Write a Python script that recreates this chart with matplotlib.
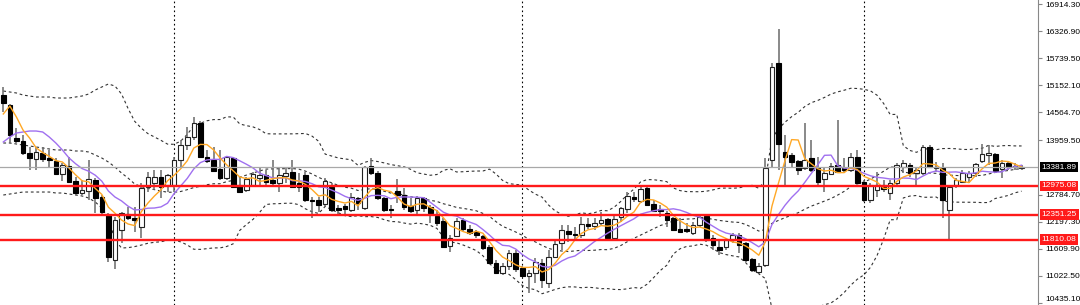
import numpy as np
import pandas as pd
import matplotlib
matplotlib.use('Agg')
import matplotlib.pyplot as plt

# weekly OHLC
opens = [14942, 14726, 14010, 13946, 13686, 13556, 13686, 13577, 13512, 13230,
         13404, 13079, 12819, 12862, 13100, 12732, 12342, 11367, 12017, 12364,
         12277, 12082, 12949, 13035, 13165, 12992, 12992, 13534, 13859, 14032,
         14336, 13599, 13534, 13339, 13144, 13577, 12992, 12884, 12992, 13144,
         13209, 13100, 13035, 13187, 13274, 13035, 13209, 12667, 12667, 12580,
         12949, 12494, 12537, 12450, 12710, 12494, 13404, 13252, 12710, 12472,
         12862, 12775, 12537, 12450, 12710, 12515, 12320, 12212, 11670, 11887,
         12234, 12039, 11974, 11887, 11649, 11302, 11085, 11237, 11519, 11194,
         11020, 11085, 11302, 10868, 11432, 11735, 11995, 11930, 11909, 12147,
         12104, 12169, 12255, 11844, 12299, 12472, 12732, 12645, 12927, 12580,
         12472, 12385, 12277, 12039, 12039, 11952, 12125, 12320, 11844, 11649,
         11649, 11800, 11909, 11735, 11389, 11107, 11258, 13534, 15636, 13707,
         13642, 13512, 13360, 13577, 13360, 13122, 13230, 13425, 13360, 13317,
         13599, 13057, 12667, 12884, 12992, 12819, 13035, 13382, 13425, 13252,
         13252, 13816, 13360, 13360, 12450, 12992, 13057, 13165, 13252, 13512,
         13642, 13664, 13339, 13469, 13404, 13360]
closes = [14769, 14075, 13946, 13686, 13577, 13707, 13556, 13534, 13230, 13425,
          13057, 12819, 12884, 13122, 12710, 12407, 11432, 12234, 12385, 12277,
          12234, 12927, 13165, 13165, 12949, 13209, 13534, 13859, 14032, 14336,
          13599, 13512, 13295, 13144, 13599, 12949, 12840, 13122, 13230, 13209,
          13057, 13035, 13209, 13252, 12949, 12949, 12667, 12645, 12559, 13079,
          12450, 12450, 12472, 12732, 12602, 13382, 13252, 12710, 12450, 12450,
          12775, 12515, 12429, 12710, 12494, 12385, 12169, 11649, 11844, 12212,
          12039, 11952, 11909, 11627, 11302, 11085, 11237, 11519, 11172, 11020,
          11085, 11323, 10933, 11432, 11714, 12017, 11930, 11909, 12147, 12104,
          12169, 12234, 11844, 12255, 12494, 12754, 12689, 12906, 12559, 12429,
          12429, 12234, 12017, 11974, 11995, 12125, 12299, 11800, 11692, 11584,
          11800, 11909, 11692, 11367, 11150, 11237, 13360, 15549, 13881, 13599,
          13490, 13317, 13534, 13317, 13057, 13252, 13404, 13274, 13317, 13599,
          13035, 12667, 12992, 12992, 12906, 13035, 13425, 13469, 13252, 13317,
          13816, 13382, 13382, 12667, 12949, 13100, 13252, 13252, 13447, 13664,
          13686, 13295, 13469, 13382, 13382, 13381.89]
highs = [15116, 14747, 14227, 14075, 13816, 13816, 13816, 13751, 13577, 13469,
         13599, 13165, 13100, 13534, 13144, 12775, 12385, 12299, 12407, 12515,
         12515, 13035, 13274, 13317, 13317, 13230, 13599, 13967, 14249, 14466,
         14379, 13751, 13816, 13751, 13621, 13599, 13165, 13165, 13274, 13382,
         13317, 13534, 13382, 13382, 13534, 13252, 13274, 12732, 12732, 13144,
         13035, 12559, 12580, 12819, 12732, 13404, 13577, 13295, 12732, 12559,
         13122, 12927, 12710, 12754, 12732, 12559, 12450, 12277, 11909, 12277,
         12277, 12125, 12017, 11909, 11692, 11367, 11302, 11584, 11584, 11237,
         11150, 11410, 11389, 11584, 11800, 12125, 12125, 12082, 12299, 12277,
         12277, 12407, 12277, 12342, 12515, 12840, 12840, 12970, 12949, 12667,
         12559, 12429, 12299, 12277, 12169, 12190, 12342, 12342, 11909, 11800,
         11844, 11952, 11952, 11757, 11410, 11302, 13577, 15636, 16373, 14075,
         13686, 13534, 14336, 13967, 13599, 13360, 13469, 14401, 13577, 13686,
         13751, 13100, 13035, 13274, 13100, 13100, 13469, 13534, 13469, 13382,
         13859, 13859, 13490, 13469, 12992, 13144, 13317, 13295, 13469, 13881,
         13859, 13686, 13534, 13490, 13469, 13425]
lows = [14574, 13902, 13902, 13642, 13317, 13317, 13490, 13382, 13209, 13079,
        13035, 12775, 12775, 12667, 12385, 12364, 11323, 11172, 11735, 12234,
        11974, 11844, 12840, 12884, 12710, 12840, 12840, 13382, 13751, 13967,
        13577, 13469, 13274, 13100, 13100, 12927, 12819, 12840, 12970, 12992,
        12992, 12970, 12840, 13035, 12927, 12840, 12624, 12277, 12407, 12515,
        12407, 12364, 12320, 12407, 12450, 12450, 13209, 12667, 12407, 12277,
        12602, 12450, 12385, 12342, 12407, 12169, 12104, 11627, 11540, 11865,
        11995, 11909, 11844, 11584, 11280, 11063, 11042, 11150, 11107, 10998,
        10652, 10868, 10760, 10760, 11410, 11584, 11757, 11800, 11844, 12039,
        12017, 12125, 11822, 11822, 12190, 12385, 12624, 12602, 12537, 12407,
        12299, 12082, 11995, 11952, 11952, 11909, 12082, 11757, 11584, 11475,
        11584, 11735, 11519, 11323, 11107, 11063, 11215, 13360, 13317, 12949,
        13382, 13209, 13317, 13274, 12992, 12840, 13209, 13252, 13252, 13274,
        13014, 12624, 12602, 12732, 12840, 12667, 12992, 13252, 13165, 12949,
        13209, 13360, 13274, 12277, 11800, 12927, 13035, 13035, 13165, 13469,
        13425, 13274, 13144, 13317, 13317, 13317]

# indicator values at the left edge (history before the first bar is off-screen)
fast_head = [14531, 14704, 14466, 14184]
slow_head = [13924, 14032, 14119, 14141, 14162, 14162, 14141, 14032, 13902]
bb_upper_head = [15029, 15007, 14986, 14942, 14921, 14899, 14899, 14899, 14877, 14877,
                 14877, 14899, 14921, 14964, 15051, 15116, 15181, 15137, 14964]
bb_mid_head = [13902, 13902, 13881, 13859, 13837, 13816, 13794, 13772, 13751, 13751,
               13751, 13729, 13729, 13707, 13642, 13577, 13490, 13382, 13252]
bb_lower_head = [12775, 12797, 12819, 12840, 12840, 12840, 12840, 12840, 12819, 12819,
                 12797, 12775, 12754, 12710, 12624, 12494, 12277, 11800, 11627]

separators = [26, 79, 131]
current_price = 13381.89
levels = [12975.08, 12351.25, 11810.08]
tick_values = [16914.30, 16326.90, 15739.50, 15152.10, 14564.70, 13959.50,
               12784.70, 12197.30, 11609.90, 11022.50, 10435.10]

df = pd.DataFrame({'open': opens, 'high': highs, 'low': lows, 'close': closes})
n = len(df)
x = np.arange(n)

ma_fast = df['close'].rolling(5).mean()
ma_fast.iloc[:4] = fast_head
ma_slow = df['close'].rolling(10).mean()
ma_slow.iloc[:9] = slow_head
bb_mid = df['close'].rolling(20).mean()
bb_std = df['close'].rolling(20).std(ddof=0)
bb_up = bb_mid + 2 * bb_std
bb_lo = bb_mid - 2 * bb_std
bb_mid.iloc[:19] = bb_mid_head
bb_up.iloc[:19] = bb_upper_head
bb_lo.iloc[:19] = bb_lower_head

fig = plt.figure(figsize=(10.8, 3.05), dpi=100)
ax = fig.add_axes([0, 0, 1038 / 1080, 1])
ax.set_xlim(-0.5, 157.5)
ax.set_ylim(10392, 17001)

# period separators
for s in separators:
    ax.axvline(s, color='black', lw=0.8, ls=(0, (1.5, 2.5)), zorder=1)

# bollinger bands
for band in (bb_up, bb_mid, bb_lo):
    ax.plot(x, band, color='#333333', lw=0.8, ls=(0, (2.5, 2.5)), zorder=2)

# candles
up = df['close'] >= df['open']
ax.vlines(x, df['low'], df['high'], color='#6a6a6a', lw=1.1, zorder=3)
body_lo = np.minimum(df['open'], df['close'])
body_h = (df['close'] - df['open']).abs()
ax.bar(x[up], body_h[up], bottom=body_lo[up], width=0.7,
       color='white', edgecolor='#222222', linewidth=0.8, zorder=4)
ax.bar(x[~up], body_h[~up], bottom=body_lo[~up], width=0.7,
       color='black', edgecolor='black', linewidth=0.8, zorder=4)

# moving averages
ax.plot(x, ma_slow, color='#a070f0', lw=1.0, zorder=5)
ax.plot(x, ma_fast, color='#ffa826', lw=1.0, zorder=6)

# price lines
ax.axhline(current_price, color='#a8a8a8', lw=0.9, zorder=6)
for lv in levels:
    ax.axhline(lv, color='#ff1a1a', lw=1.7, zorder=7)

# right price scale
for sp in ('top', 'left', 'bottom'):
    ax.spines[sp].set_visible(False)
ax.spines['right'].set_color('#888888')
ax.set_xticks([])
ax.yaxis.tick_right()
ax.set_yticks(tick_values)
ax.set_yticklabels(['%.2f' % v for v in tick_values],
                   fontsize=6, family='Liberation Sans', color='black')
ax.tick_params(axis='y', length=3, width=0.8, color='#888888', pad=2)
ax.get_yticklabels()[-1].set_va('bottom')

trans = ax.get_yaxis_transform()
ax.text(1.0035, current_price, '%.2f' % current_price, transform=trans,
        fontsize=6, family='Liberation Sans', color='white', va='center', ha='left',
        bbox=dict(boxstyle='square,pad=0.2', fc='black', ec='none'), clip_on=False)
for lv in levels:
    ax.text(1.0035, lv, '%.2f' % lv, transform=trans,
            fontsize=6, family='Liberation Sans', color='white', va='center', ha='left',
            bbox=dict(boxstyle='square,pad=0.2', fc='#ff1a1a', ec='none'), clip_on=False)

fig.savefig('out.png', dpi=100, facecolor='white')
